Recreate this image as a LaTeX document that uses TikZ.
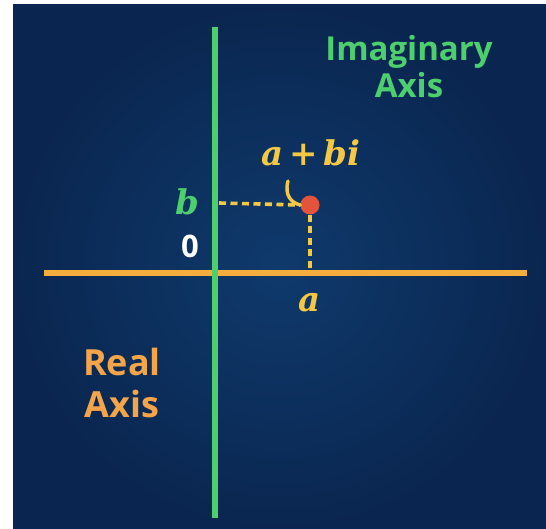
\documentclass[tikz,border=0pt]{standalone}
\usepackage{fontspec}
\setmainfont{Open Sans}
\newfontfamily\varfont{DejaVu Serif}
\usetikzlibrary{positioning}
\definecolor{bgdark}{HTML}{0A2650}
\definecolor{bglight}{HTML}{0F3A6C}
\definecolor{axgreen}{HTML}{4CCF6C}
\definecolor{axorange}{HTML}{F5AE3E}
\definecolor{dashyellow}{HTML}{F4C843}
\definecolor{dotred}{HTML}{E4533B}
\definecolor{realorange}{HTML}{F3A548}

\begin{document}
\begin{tikzpicture}[
  x=1pt, y=-1pt,
  axis/.style={line width=6.5pt},
  dashline/.style={dashyellow, line width=3.6pt, dash pattern=on 7pt off 4.5pt},
  title/.style 2 args={font=\fontsize{#1}{#2}\selectfont\bfseries, align=center},
  var/.style={font=\fontsize{34}{34}\selectfont\varfont\bfseries\itshape, inner sep=0pt},
  dot/.style={circle, fill=dotred, minimum size=19pt, inner sep=0pt}
]
\useasboundingbox[fill=white] (0,0) rectangle (546,529);
\shade[inner color=bglight, outer color=bgdark] (13,5) rectangle (546,529);

% axes
\coordinate (xl) at (44,273);
\coordinate (xr) at (527,273);
\coordinate (yt) at (215,27);
\coordinate (yb) at (215,518);
\draw[axis, axorange] (xl) -- (xr);
\draw[axis, axgreen] (yt) -- (yb);

% point and projections
\node[dot] (z) at (310,205) {};
\coordinate (zb) at (219,203);
\coordinate (za) at (310,270);
\draw[dashline] (zb) -- (z.west);
\draw[dashline] (z.south) -- (za);
\draw[dashyellow, line width=3.4pt, line cap=round] (288,181) .. controls (284,196) and (292,203) .. (z.west);

% labels
\node[var, dashyellow] (zlab) at (311,153) {a\,+\,bi};
\node[var, axgreen] (blab) at (187,202) {b};
\node[font=\fontsize{31}{31}\selectfont\bfseries, white] (olab) at (190,246) {0};
\node[var, dashyellow] (alab) at (310,303) {a};
\node[title={33}{37}, axgreen] (imlab) at (409,67) {Imaginary\\Axis};
\node[title={36}{42}, realorange] (relab) at (122,383) {Real\\Axis};
\end{tikzpicture}
\end{document}
